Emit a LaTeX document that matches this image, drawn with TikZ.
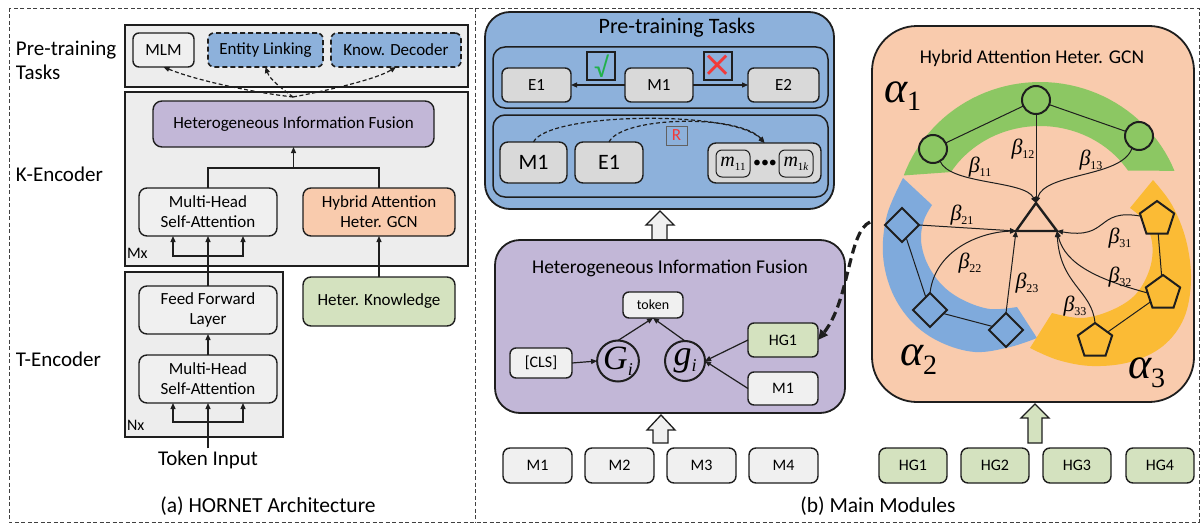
\documentclass[tikz,border=0pt]{standalone}
\usepackage{fontspec}
\setmainfont{Carlito}
\newfontfamily\tms{Liberation Serif}
\newfontfamily\djv{DejaVu Sans}
\usetikzlibrary{arrows.meta,shapes.geometric,calc}

\definecolor{linec}{HTML}{1E1E1E}
\definecolor{panelgray}{HTML}{EDEDED}
\definecolor{boxwhite}{HTML}{F0F0F0}
\definecolor{boxgray}{HTML}{D9D9D9}
\definecolor{taskblue}{HTML}{8DB1DB}
\definecolor{fusepurple}{HTML}{C2B7D7}
\definecolor{gcnpeach}{HTML}{F9CBAD}
\definecolor{knowgreen}{HTML}{D4E2BF}
\definecolor{bandgreen}{HTML}{8CC763}
\definecolor{bandblue}{HTML}{7FAADC}
\definecolor{bandyellow}{HTML}{FBBB35}
\definecolor{okgreen}{HTML}{22B04B}
\definecolor{nored}{HTML}{F23A3A}

\newcommand\fsz[2]{\fontsize{#1}{#2}\selectfont}
% box from corner (#2,#3) to corner (#4,#5)
\newcommand\bx[7]{%
  \node[#6, minimum width={(#4)-(#2)}, minimum height={(#5)-(#3)}]
    (#1) at ({((#2)+(#4))/2},{((#3)+(#5))/2}) {#7};}
\newcommand\btag[1]{{\tms\itshape\fsz{22}{22}β\raisebox{-4pt}{\upshape\fsz{12}{12}#1}}}
\newcommand\atag[1]{{\tms\itshape\fsz{44}{44}α\raisebox{-9pt}{\upshape\fsz{28}{28}#1}}}
\newcommand\gtag[3]{{\tms\itshape\fsz{#3}{#3}#1\raisebox{-6pt}{\fsz{18}{18}#2}}}
\newcommand\mtag[1]{{\tms\itshape\fsz{20}{20}m\raisebox{-4pt}{\upshape\fsz{11}{11}#1}}}

\begin{document}
\begin{tikzpicture}[x=1pt,y=-1pt,
  every node/.style={inner sep=0pt, outer sep=0pt},
  modbox/.style={draw=linec, line width=1.4pt, rounded corners=6pt, fill=boxwhite,
    align=center, font=\fsz{17}{20}},
  dbox/.style={modbox, fill=taskblue, line width=1.6pt, dash pattern=on 5pt off 3pt},
  gbox/.style={modbox, fill=boxgray},
  panel/.style={draw=linec, line width=1.6pt, fill=panelgray},
  bigpanel/.style={draw=linec, line width=1.8pt, rounded corners=25pt},
  inpanel/.style={draw=linec, line width=1.5pt, rounded corners=12pt, fill=taskblue},
  flagbox/.style={draw=linec, line width=2.2pt, fill=taskblue},
  lbl/.style={font=\fsz{21}{24}},
  titletext/.style={font=\fsz{19.5}{22}},
  gate/.style={ellipse, draw=linec, line width=2pt},
  conn/.style={draw=linec, line width=1.2pt},
  arr/.style={conn, -{Triangle[length=6pt,width=5pt]}},
  dasharr/.style={conn, dash pattern=on 4pt off 2.5pt, -{Triangle[length=6pt,width=5pt]}},
  blockarr/.style={draw=linec, line width=1.3pt, line join=miter},
  frame/.style={draw=linec!85, line width=0.9pt, dash pattern=on 4pt off 2.5pt},
  gedge/.style={draw=linec, line width=1pt},
  garr/.style={gedge, -{Triangle[length=6pt,width=5pt]}},
  gnode/.style={draw=linec, line width=2pt},
]
\useasboundingbox (0,0) rectangle (1202,527);
\fill[white] (0,0) rectangle (1202,527);

% outer dashed frame and divider
\draw[frame] (9,8) rectangle (1199,522);
\draw[frame] (475,8) -- (475,522);

% ---------------- (a) architecture ----------------
\node[lbl, anchor=base west] (lpt1) at (16,56) {Pre-training};
\node[lbl, anchor=base west] (lpt2) at (16,79) {Tasks};
\node[lbl, anchor=base west] (lke) at (16,181) {K-Encoder};
\node[lbl, anchor=base west] (lte) at (16,366) {T-Encoder};

\bx{ptpanel}{125}{25}{468}{87}{panel}{}
\bx{kpanel}{125}{92}{468}{266}{panel}{}
\bx{tpanel}{125}{272}{283}{437}{panel}{}

\bx{mlm}{133}{33}{194}{67}{modbox}{MLM}
\bx{elink}{208}{33}{323}{67}{dbox}{Entity Linking}
\bx{kdec}{331}{33}{461}{67}{dbox}{Know. Decoder}
\bx{hifa}{153}{101}{434}{147}{modbox, fill=fusepurple, rounded corners=9pt}{Heterogeneous Information Fusion}
\bx{mhk}{139}{188}{277}{236}{modbox, rounded corners=8pt}{Multi-Head\\Self-Attention}
\bx{hgk}{303}{188}{455}{236}{modbox, fill=gcnpeach, rounded corners=8pt}{Hybrid Attention\\Heter. GCN}
\bx{hkn}{303}{277}{455}{326}{modbox, fill=knowgreen, rounded corners=8pt}{Heter. Knowledge}
\bx{ffl}{139}{286}{277}{334}{modbox, rounded corners=8pt}{Feed Forward\\Layer}
\bx{mht}{139}{355}{277}{403}{modbox, rounded corners=8pt}{Multi-Head\\Self-Attention}
\node[font=\fsz{16}{16}, anchor=base west] (mx) at (127,258) {Mx};
\node[font=\fsz{16}{16}, anchor=base west] (nx) at (127,430) {Nx};
\node[lbl, anchor=base, inner sep=2pt] (tokin) at (208,465) {Token Input};
\node[lbl, font=\fsz{21.5}{24}, anchor=base] (capa) at (268,512) {(a) HORNET Architecture};

\coordinate (kjoin) at (293.5,168);
\draw[conn] (mhk.north) |- (kjoin) -| (hgk.north);
\draw[arr] (kjoin) -- (hifa.south);
\draw[arr] (hkn.north) -- (hgk.south);
\coordinate (kfork) at (208,256);
\draw[conn, line width=2pt] (ffl.north) -- (kfork);
\draw[arr] (kfork) -- (mhk.south);
\draw[arr] (kfork) -| ($(mhk.south)+(-35,0)$);
\draw[arr] (kfork) -| ($(mhk.south)+(35,0)$);
\draw[arr] (mht.north) -- (ffl.south);
\coordinate (tfork) at (208,422);
\draw[conn] (tokin.north) -- (tfork);
\draw[arr] (tfork) -- (mht.south);
\draw[arr] (tfork) -| ($(mht.south)+(-35,0)$);
\draw[arr] (tfork) -| ($(mht.south)+(35,0)$);

\coordinate (kspread) at (293,97);
\draw[dasharr] (kspread) .. controls (250,92) and (195,80) .. (mlm.south);
\draw[dasharr] (kspread) .. controls (284,90) and (270,80) .. (elink.south);
\draw[dasharr] (kspread) .. controls (320,92) and (375,80) .. (kdec.south);

% ---------------- (b) pre-training tasks ----------------
\bx{ptb}{485}{12}{834}{209}{bigpanel, fill=taskblue}{}
\node[titletext, font=\fsz{22}{24}] (ptbt) at (677,28) {Pre-training Tasks};
\bx{ina}{493}{47}{828}{108}{inpanel}{}
\bx{inb}{493}{115}{828}{197}{inpanel}{}
\bx{ea}{502}{68}{571}{102}{gbox}{E1}
\bx{ma}{625}{68}{693}{102}{gbox}{M1}
\bx{eb}{748}{68}{819}{102}{gbox}{E2}
\bx{okb}{587}{52}{615}{80}{flagbox}{}
\node[text=okgreen, font=\fsz{28}{28}] (oksign) at (okb) {√};
\bx{nob}{704}{52}{732}{80}{flagbox}{}
\node[text=nored, font=\djv\fsz{36}{36}] (nosign) at (nob) {×};
\draw[arr] (ma.west) -- (ea.east);
\draw[arr] (ma.east) -- (eb.west);

\bx{mb}{500}{142}{567}{183}{gbox, font=\fsz{22}{24}, rounded corners=8pt}{M1}
\bx{ec}{575}{142}{643}{183}{gbox, font=\fsz{22}{24}, rounded corners=8pt}{E1}
\bx{rb}{666}{126}{687}{145}{draw=linec!70, line width=0.7pt, fill=taskblue, font=\fsz{17}{17}, text=nored}{R}
\bx{mset}{708}{143}{821}{183}{gbox, rounded corners=8pt}{}
\bx{mfirst}{716}{150}{750}{177}{gbox, line width=1pt}{\mtag{11}}
\bx{mlast}{779}{150}{813}{177}{gbox, line width=1pt}{\mtag{1\textit{k}}}
\node[font=\fsz{16}{16}] (mdots) at (765,164) {•••};
\draw[dasharr] (mb.north) .. controls (548,112) and (735,110) .. (mset.north);
\draw[dasharr] (ec.north) .. controls (622,116) and (740,114) .. (mset.north);

% block arrow into the task panel
\filldraw[blockarr, fill=boxwhite] (652,240) -- (652,225) -- (646,225) -- (660,211)
  -- (674,225) -- (667,225) -- (667,240) -- cycle;

% ---------------- (b) information fusion ----------------
\bx{hifb}{495}{240}{845}{413}{bigpanel, fill=fusepurple}{}
\node[titletext] (hifbt) at (670,268) {Heterogeneous Information Fusion};
\bx{tok}{623}{292}{683}{318}{modbox, font=\fsz{14}{16}}{token}
\bx{cls}{510}{348}{572}{378}{modbox, font=\fsz{16}{18}}{[CLS]}
\node[gate, minimum width=37, minimum height=41] (Gi) at (618,361) {\gtag{G}{i}{34}};
\node[gate, minimum width=40, minimum height=40] (gi) at (685,361) {\gtag{g}{i}{36}};
\bx{hgm}{748}{323}{818}{357}{modbox, fill=knowgreen, font=\fsz{16}{18}}{HG1}
\bx{mm}{748}{372}{818}{405}{modbox, font=\fsz{16}{18}}{M1}
\draw[arr] (cls.east) -- (Gi.west);
\draw[arr] (Gi.north) -- (tok.south);
\draw[arr] (gi.north) -- (tok.south);
\draw[arr] (hgm.west) -- (gi.east);
\draw[arr] (mm.west) -- (gi.east);

\filldraw[blockarr, fill=boxwhite] (653,443) -- (653,430) -- (647,430) -- (661,415)
  -- (675,430) -- (668,430) -- (668,443) -- cycle;

% input rows
\foreach \i/\x in {1/503,2/585,3/667,4/749}{
  \bx{mod\i}{\x}{448}{\x+69}{483}{modbox, rounded corners=7pt, font=\fsz{16}{18}}{M\i}
}
\foreach \i/\x in {1/879,2/961,3/1043,4/1126}{
  \bx{hg\i}{\x}{448}{\x+68}{483}{modbox, fill=knowgreen, rounded corners=7pt, font=\fsz{16}{18}}{HG\i}
}
\node[lbl, font=\fsz{21.5}{24}, anchor=base] (capb) at (878,512) {(b) Main Modules};

\filldraw[blockarr, fill=knowgreen] (1028,443) -- (1028,418) -- (1021,418) -- (1035,404)
  -- (1049,418) -- (1042,418) -- (1042,443) -- cycle;

% ---------------- (b) hybrid attention GCN ----------------
\bx{hyb}{872}{26}{1194}{402}{bigpanel, fill=gcnpeach, rounded corners=45pt}{}
\node[titletext] (hybt) at (1032,58) {Hybrid Attention Heter. GCN};

% type bands
\fill[bandgreen] plot[domain=160:22, samples=50] ({1040+145*cos(\x)},{224-142*sin(\x)})
  -- plot[domain=33:148, samples=50] ({1040+105*cos(\x)},{224-98*sin(\x)}) -- cycle;
\fill[bandblue] plot[smooth, tension=0.6] coordinates {(903,178) (887,215) (883,255)
  (892,292) (912,322) (940,342) (975,352) (1010,347) (1037,338)}
  -- plot[smooth, tension=0.6] coordinates {(1017,307) (990,309) (963,300) (942,285)
  (927,263) (921,240) (924,220) (932,205)} -- cycle;
\fill[bandyellow] plot[smooth, tension=0.6] coordinates {(1153,180) (1172,205) (1186,240)
  (1191,280) (1184,318) (1163,346) (1130,362) (1092,366) (1058,360) (1030,348)}
  -- plot[smooth, tension=0.6] coordinates {(1052,313) (1082,318) (1112,310) (1136,294)
  (1150,268) (1152,242) (1143,220) (1130,208)} -- cycle;

\node[anchor=base west] (a1) at (884,102) {\atag{1}};
\node[anchor=base west] (a2) at (900,365) {\atag{2}};
\node[anchor=base west] (a3) at (1128,378) {\atag{3}};

% graph nodes
\node[gnode, circle, fill=bandgreen, minimum size=28] (c1) at (933,149) {};
\node[gnode, circle, fill=bandgreen, minimum size=28] (c2) at (1036,100) {};
\node[gnode, circle, fill=bandgreen, minimum size=28] (c3) at (1139,136) {};
\node[gnode, diamond, fill=bandblue, minimum width=34, minimum height=34] (d1) at (902,225) {};
\node[gnode, diamond, fill=bandblue, minimum width=34, minimum height=34] (d2) at (930,310) {};
\node[gnode, diamond, fill=bandblue, minimum width=34, minimum height=34] (d3) at (1006,330) {};
\node[gnode, regular polygon, regular polygon sides=5, fill=bandyellow, minimum size=36] (p1) at (1157,219) {};
\node[gnode, regular polygon, regular polygon sides=5, fill=bandyellow, minimum size=36] (p2) at (1163,293) {};
\node[gnode, regular polygon, regular polygon sides=5, fill=bandyellow, minimum size=36] (p3) at (1095,341) {};
\coordinate (tt) at (1036,203);
\coordinate (tl) at (1016,231);
\coordinate (tr) at (1057,231);

\draw[gedge] (c1) -- (c2) -- (c3);
\draw[gedge] (d1) -- (d2) -- (d3);
\draw[gedge] (p1) -- (p2) -- (p3);

\draw[garr] (c2.south) -- (tt);
\draw[garr] (c1.300) .. controls (950,185) and (1025,180) .. (tt);
\draw[garr] (c3.240) .. controls (1122,178) and (1045,172) .. (tt);
\draw[garr] (d1.east) -- (tl);
\draw[garr] (d2.north) .. controls (935,250) and (980,232) .. (tl);
\draw[garr] (d3.north) -- (tl);
\draw[garr] (p1.170) .. controls (1095,208) and (1110,240) .. (tr);
\draw[garr] (p2.west) .. controls (1100,280) and (1065,265) .. (tr);
\draw[garr] (p3.north) .. controls (1092,290) and (1060,285) .. (tr);

\draw[draw=linec, line width=2.4pt, line join=miter] (tt) -- (tl) -- (tr) -- cycle;

\node (b11) at (980,167) {\btag{11}};
\node (b12) at (1023,149) {\btag{12}};
\node (b13) at (1091,160) {\btag{13}};
\node (b21) at (962,215) {\btag{21}};
\node (b22) at (970,263) {\btag{22}};
\node (b23) at (1027,283) {\btag{23}};
\node (b31) at (1120,238) {\btag{31}};
\node (b32) at (1120,277) {\btag{32}};
\node (b33) at (1075,306) {\btag{33}};

% knowledge link into the fusion module
\coordinate (hstart) at (870,222);
\draw[draw=linec, line width=3.2pt, dash pattern=on 9pt off 5pt,
  -{Triangle[length=10pt,width=9pt]}] (hstart) .. controls (848,232) and (850,300) .. (hgm.east);
\end{tikzpicture}
\end{document}
